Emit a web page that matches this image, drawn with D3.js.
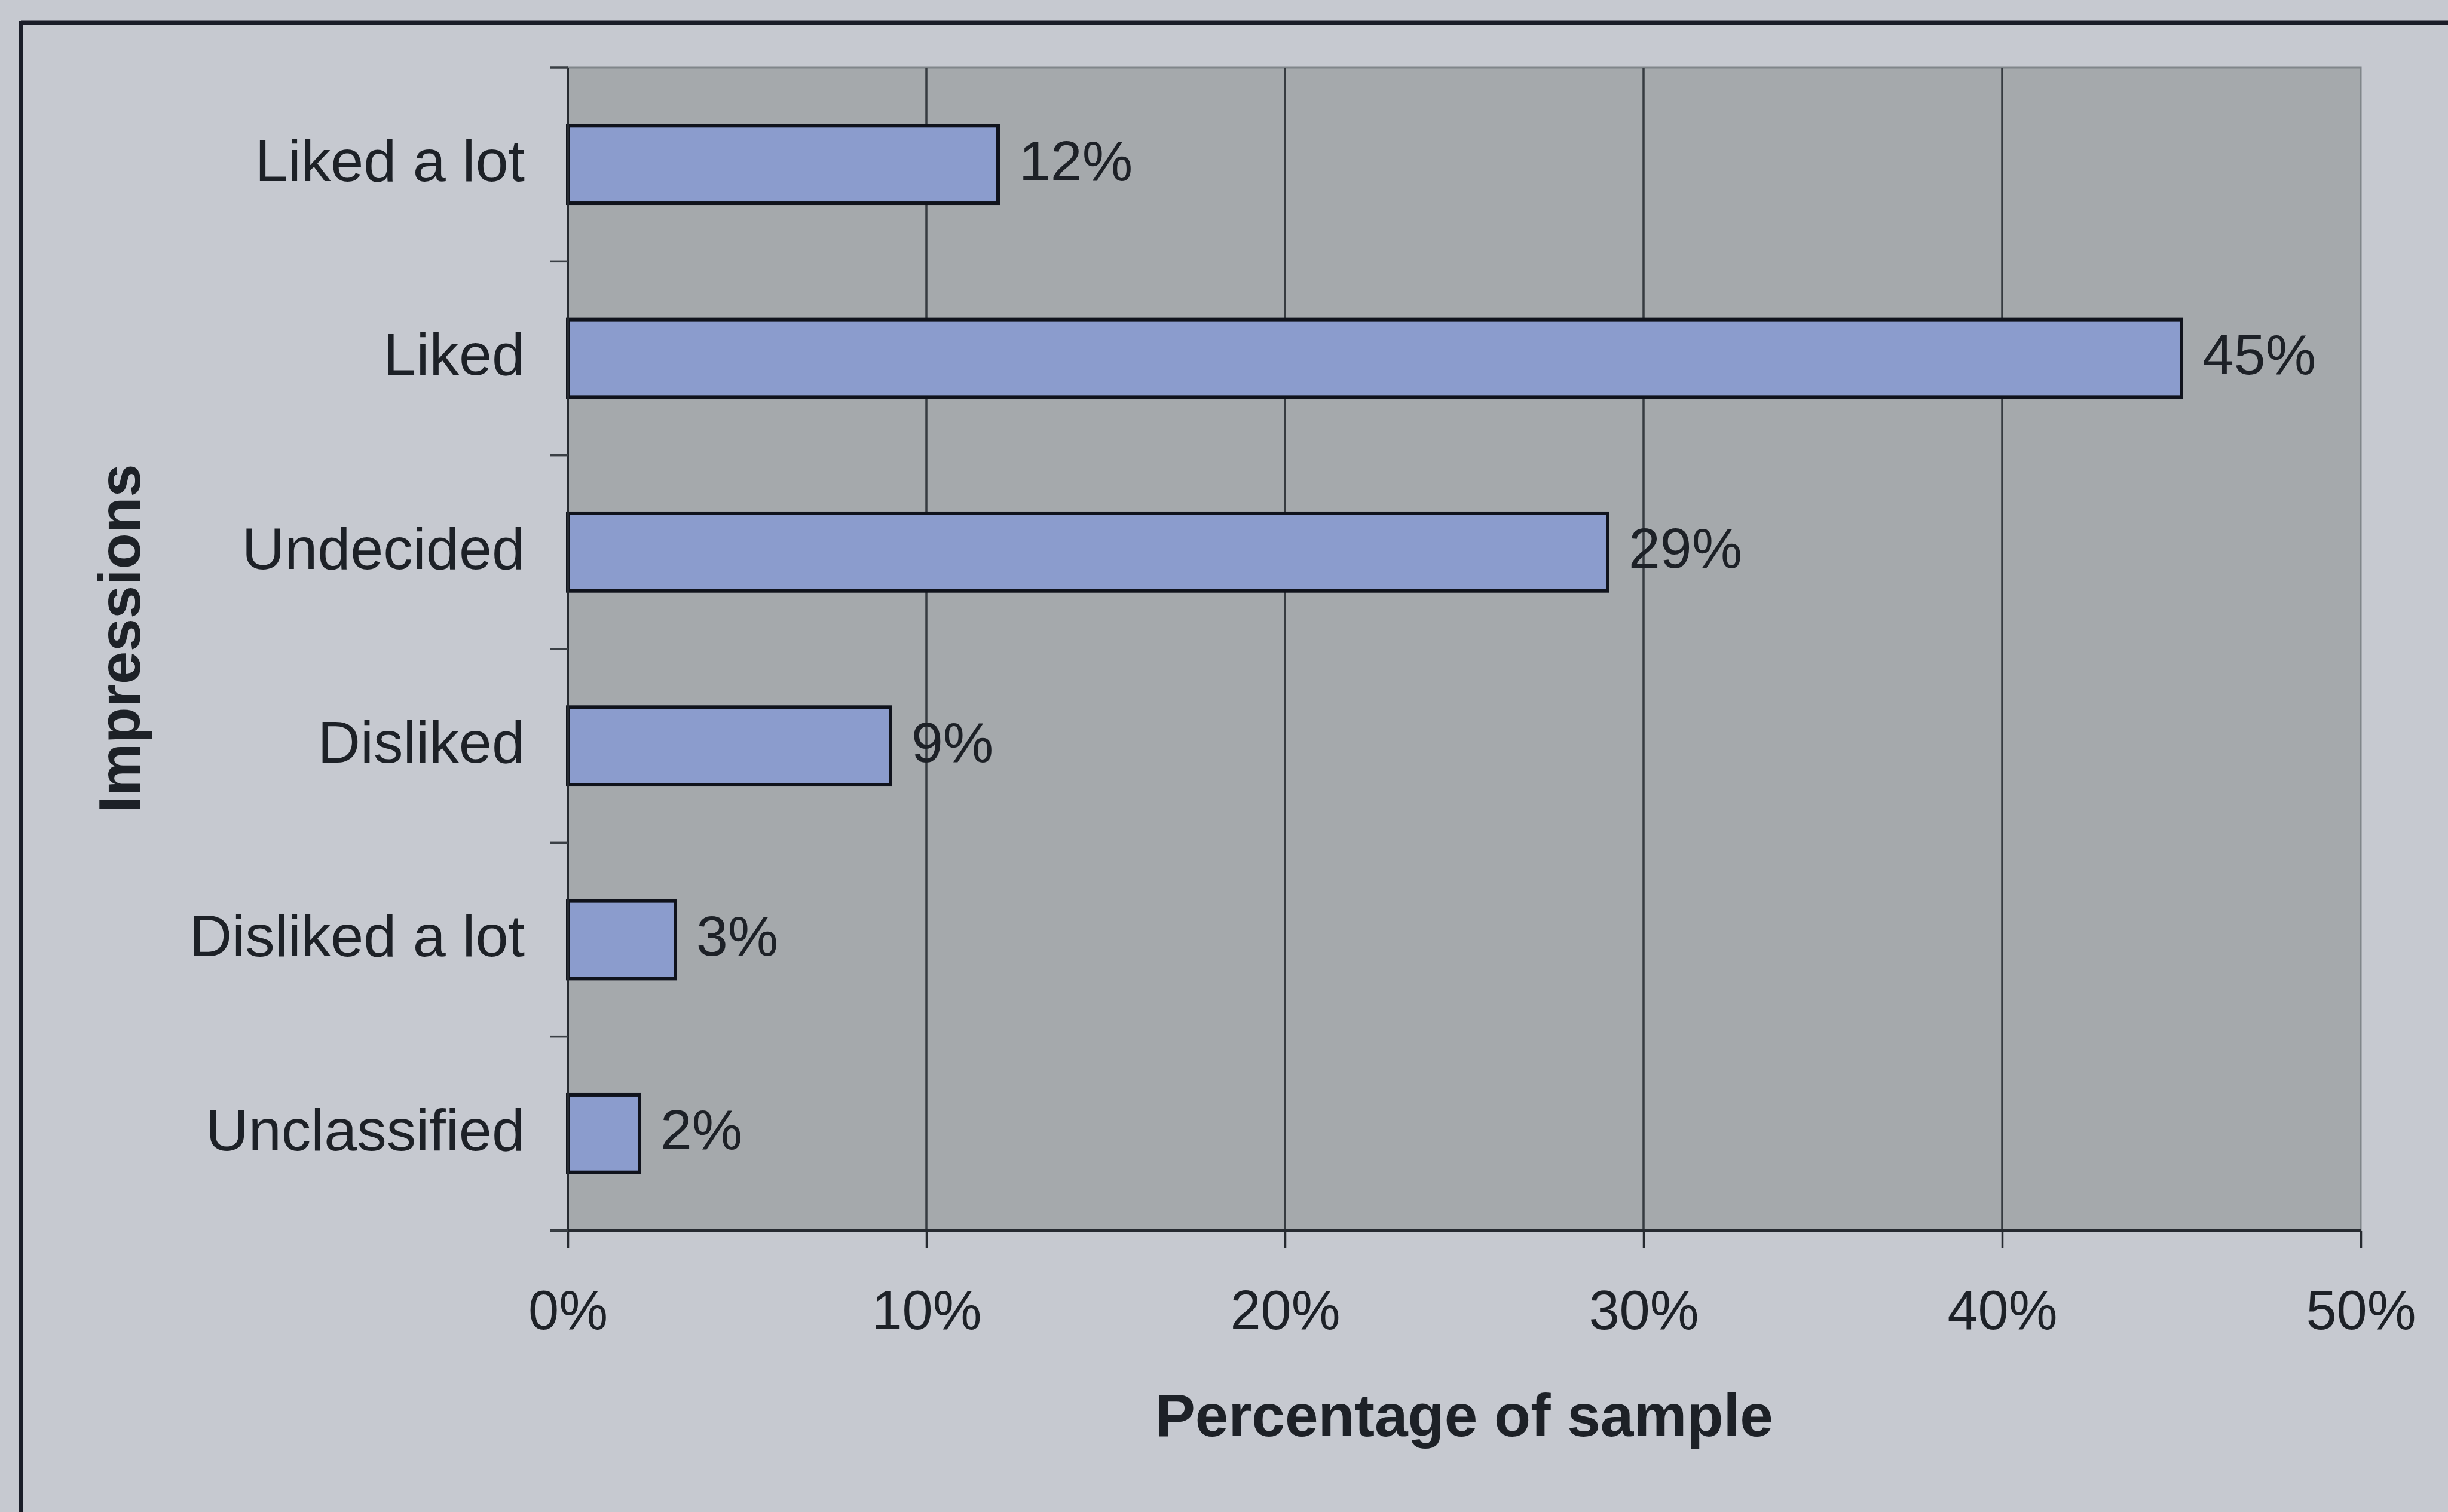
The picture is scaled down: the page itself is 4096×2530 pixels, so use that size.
<!DOCTYPE html>
<html>
<head>
<meta charset="utf-8">
<script src="https://cdn.jsdelivr.net/npm/d3@7"></script>
<style>
  html, body { margin: 0; padding: 0; background: #c6c9d0; overflow: hidden; }
  svg { display: block; }
</style>
</head>
<body>
<script>
// Survey impressions, share of sample (percent)
const categories = ["Liked a lot", "Liked", "Undecided", "Disliked", "Disliked a lot", "Unclassified"];
const percentages = [12, 45, 29, 9, 3, 2];
const xTicks = [0, 10, 20, 30, 40, 50];
const xTitle = "Percentage of sample";
const yTitle = "Impressions";

const W = 4096, H = 2530;
const plot = { left: 950, right: 3950, top: 113, bottom: 2059 };
const FONT = "'Liberation Sans', Arial, Helvetica, sans-serif";
const INK = "#1d2127";

const svg = d3.select("body").append("svg")
  .attr("width", W).attr("height", H);

// page background and frame lines
svg.append("rect").attr("width", W).attr("height", H).attr("fill", "#c6c9d0");
svg.append("line").attr("x1", 35).attr("x2", W).attr("y1", 38).attr("y2", 38)
  .attr("stroke", "#1a1d28").attr("stroke-width", 7);
svg.append("line").attr("x1", 35).attr("x2", 35).attr("y1", 35).attr("y2", H)
  .attr("stroke", "#1a1d28").attr("stroke-width", 7);

const x = d3.scaleLinear().domain([0, 50]).range([plot.left, plot.right]);
const y = d3.scaleBand().domain(categories).range([plot.top, plot.bottom]).padding(0);
const barFrac = 0.4;

// plot area
svg.append("rect")
  .attr("x", plot.left).attr("y", plot.top)
  .attr("width", plot.right - plot.left).attr("height", plot.bottom - plot.top)
  .attr("fill", "#a5a9ac").attr("stroke", "#80868a").attr("stroke-width", 3);

// vertical gridlines
svg.append("g").selectAll("line").data(xTicks.slice(1, -1)).join("line")
  .attr("x1", d => x(d)).attr("x2", d => x(d))
  .attr("y1", plot.top).attr("y2", plot.bottom)
  .attr("stroke", "#363b40").attr("stroke-width", 3.5);

// bars
svg.append("g").selectAll("rect").data(categories).join("rect")
  .attr("x", x(0))
  .attr("y", (d) => y(d) + y.bandwidth() * (1 - barFrac) / 2)
  .attr("width", (d, i) => x(percentages[i]) - x(0))
  .attr("height", y.bandwidth() * barFrac)
  .attr("fill", "#8b9ccd").attr("stroke", "#10131c").attr("stroke-width", 6);

// value labels
svg.append("g").selectAll("text").data(categories).join("text")
  .attr("x", (d, i) => x(percentages[i]) + 35)
  .attr("y", d => y(d) + y.bandwidth() / 2)
  .attr("dy", "0.28em")
  .attr("font-family", FONT).attr("font-size", 95).attr("fill", INK)
  .text((d, i) => percentages[i] + "%");

// x axis
const xAxis = svg.append("g")
  .attr("transform", `translate(0,${plot.bottom})`)
  .call(d3.axisBottom(x).tickValues(xTicks).tickSize(30).tickPadding(70)
    .tickFormat(d => d + "%"));
xAxis.select(".domain").attr("stroke", "#262a30").attr("stroke-width", 4)
  .attr("d", `M${plot.left - 30},0H${plot.right}`);
xAxis.selectAll(".tick line").attr("stroke", "#262a30").attr("stroke-width", 3.5);
xAxis.selectAll(".tick text").attr("font-family", FONT).attr("font-size", 92)
  .attr("fill", INK).attr("dy", "0.71em");

// y axis: ticks at category boundaries, labels centred in bands
const yAxisG = svg.append("g");
yAxisG.append("line")
  .attr("x1", plot.left).attr("x2", plot.left)
  .attr("y1", plot.top).attr("y2", plot.bottom + 30)
  .attr("stroke", "#262a30").attr("stroke-width", 4);
const boundaries = categories.map(c => y(c)).concat([y(categories[categories.length - 1]) + y.bandwidth()]);
yAxisG.selectAll("line.tick").data(boundaries).join("line").attr("class", "tick")
  .attr("x1", plot.left - 30).attr("x2", plot.left)
  .attr("y1", d => d).attr("y2", d => d)
  .attr("stroke", "#3a3f45").attr("stroke-width", 3.5);
yAxisG.selectAll("text").data(categories).join("text")
  .attr("x", plot.left - 72)
  .attr("y", d => y(d) + y.bandwidth() / 2)
  .attr("dy", "0.28em")
  .attr("text-anchor", "end")
  .attr("font-family", FONT).attr("font-size", 99).attr("fill", INK)
  .text(d => d);

// axis titles
svg.append("text")
  .attr("x", (plot.left + plot.right) / 2).attr("y", 2403)
  .attr("text-anchor", "middle")
  .attr("font-family", FONT).attr("font-size", 100).attr("font-weight", "bold")
  .attr("fill", INK).text(xTitle);

svg.append("text")
  .attr("transform", `translate(234,1068) rotate(-90)`)
  .attr("text-anchor", "middle")
  .attr("font-family", FONT).attr("font-size", 99).attr("font-weight", "bold")
  .attr("fill", INK).text(yTitle);
</script>
</body>
</html>
